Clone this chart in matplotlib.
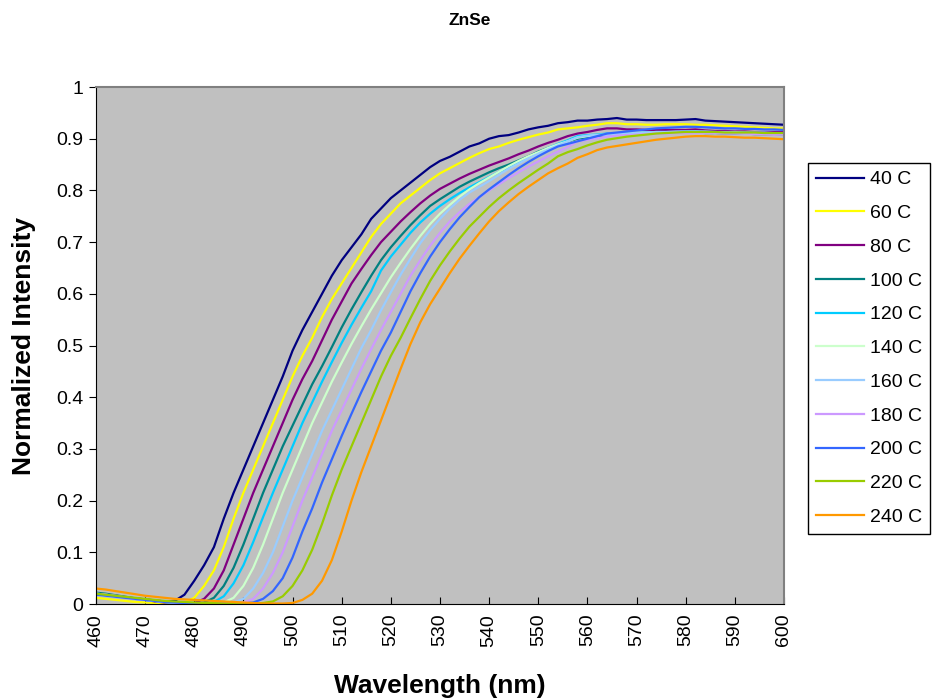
import matplotlib
matplotlib.use('Agg')
from matplotlib import pyplot as plt
import numpy as np

plt.rcParams['font.family'] = ['Liberation Sans', 'DejaVu Sans']

wl = np.arange(460, 601, 2)

t40 = [.020, .018, .016, .013, .011, .009, .007, .005, .006, .018, .045, .075, .11, .165, .215, .26, .305, .35, .395, .44,
       .49, .53, .565, .60, .635, .665, .69, .715, .745, .765, .785, .80, .815, .83, .845, .857, .865, .875, .885, .891,
       .90, .905, .907, .912, .918, .922, .925, .93, .932, .935, .935, .937, .938, .94, .937, .937, .936, .936, .936, .936,
       .937, .938, .935, .934, .933, .932, .931, .930, .929, .928, .927]
t60 = [.012, .010, .008, .006, .004, .003, .002, .001, .001, .003, .012, .035, .065, .11, .165, .215, .26, .305, .35, .395,
       .44, .48, .515, .555, .59, .62, .65, .68, .71, .735, .755, .775, .79, .805, .82, .833, .843, .853, .863, .872,
       .88, .885, .892, .898, .903, .908, .912, .918, .92, .922, .925, .927, .93, .93, .928, .928, .927, .927, .928, .928,
       .928, .927, .927, .926, .925, .924, .923, .922, .921, .92, .92]
t80 = [.02, .018, .016, .013, .01, .008, .005, .003, .002, .001, .002, .01, .03, .065, .115, .165, .215, .26, .305, .35,
       .395, .435, .47, .51, .55, .585, .62, .648, .675, .70, .72, .74, .758, .775, .79, .803, .813, .823, .832, .84,
       .848, .855, .862, .87, .877, .885, .892, .898, .905, .91, .913, .917, .92, .92, .918, .918, .917, .917, .917, .917,
       .917, .918, .916, .915, .915, .914, .914, .913, .913, .913, .913]
t100 = [.022, .02, .017, .014, .011, .008, .006, .004, .003, .002, .001, .003, .012, .035, .07, .115, .165, .215, .26, .305,
        .345, .385, .425, .46, .497, .535, .57, .603, .635, .665, .69, .712, .733, .752, .77, .783, .795, .807, .817, .826,
        .835, .843, .85, .858, .866, .875, .882, .888, .895, .9, .903, .905, .908, .91, .91, .91, .911, .912, .912, .912,
        .912, .912, .911, .911, .91, .91, .91, .909, .909, .909, .908]
t120 = [.02, .018, .015, .013, .01, .008, .006, .004, .002, .001, .001, .001, .004, .015, .04, .075, .12, .168, .215, .26,
        .305, .35, .39, .43, .468, .505, .54, .573, .605, .645, .672, .695, .718, .738, .755, .77, .783, .795, .806, .816,
        .826, .836, .845, .855, .864, .873, .882, .89, .897, .905, .907, .908, .91, .908, .91, .911, .912, .913, .913, .913,
        .914, .914, .913, .913, .912, .912, .912, .911, .911, .91, .91]
t140 = [.018, .016, .014, .012, .01, .008, .006, .004, .003, .002, .001, .001, .001, .003, .012, .035, .07, .115, .165, .215,
        .26, .305, .35, .39, .43, .467, .503, .537, .57, .601, .632, .66, .687, .712, .735, .755, .772, .788, .802, .814,
        .825, .836, .847, .857, .866, .874, .882, .889, .895, .902, .905, .907, .908, .91, .91, .911, .911, .912, .912, .912,
        .912, .912, .912, .911, .911, .911, .91, .91, .91, .909, .909]
t160 = [.02, .018, .016, .013, .01, .008, .006, .004, .003, .002, .001, .001, .001, .001, .003, .01, .03, .06, .1, .15,
        .2, .245, .29, .335, .375, .415, .455, .495, .53, .568, .603, .637, .668, .698, .723, .745, .765, .782, .796, .807,
        .818, .83, .842, .852, .862, .871, .879, .887, .895, .903, .906, .907, .908, .909, .91, .911, .912, .913, .913, .914,
        .914, .914, .914, .913, .913, .913, .912, .912, .912, .911, .911]
t180 = [.02, .018, .015, .012, .01, .008, .006, .004, .003, .002, .001, .001, .001, .001, .001, .003, .01, .03, .06, .1,
        .15, .2, .245, .29, .335, .375, .415, .455, .493, .53, .565, .6, .635, .665, .693, .718, .74, .758, .774, .787,
        .8, .812, .824, .835, .846, .856, .866, .875, .884, .895, .898, .901, .904, .906, .907, .908, .909, .91, .91, .911,
        .911, .911, .911, .911, .91, .91, .91, .909, .909, .908, .908]
t200 = [.018, .016, .014, .012, .01, .008, .006, .004, .003, .002, .001, .001, .001, .001, .001, .001, .003, .01, .025, .05,
        .09, .14, .185, .235, .28, .325, .368, .41, .45, .49, .525, .565, .605, .64, .672, .7, .725, .748, .768, .787,
        .802, .816, .83, .843, .855, .866, .876, .885, .89, .895, .9, .905, .91, .912, .914, .916, .918, .92, .921, .922,
        .923, .923, .922, .921, .92, .92, .919, .919, .918, .918, .917]
t220 = [.02, .018, .016, .014, .012, .01, .008, .006, .005, .004, .003, .002, .002, .001, .001, .001, .001, .002, .005, .015,
        .035, .065, .105, .155, .21, .26, .305, .35, .395, .44, .48, .515, .553, .59, .625, .655, .682, .707, .73, .749,
        .768, .785, .8, .814, .827, .84, .852, .866, .874, .88, .887, .893, .898, .901, .904, .906, .908, .91, .911, .912,
        .913, .913, .913, .913, .912, .912, .912, .912, .911, .911, .911]
t240 = [.03, .028, .025, .022, .019, .016, .014, .012, .01, .009, .008, .007, .006, .005, .004, .003, .002, .001, .001, .001,
        .002, .008, .02, .045, .085, .14, .2, .255, .305, .355, .405, .455, .503, .545, .58, .61, .64, .668, .693, .717,
        .74, .76, .777, .793, .807, .82, .833, .843, .852, .863, .87, .878, .883, .886, .889, .892, .895, .898, .9, .902,
        .904, .905, .905, .904, .904, .903, .902, .902, .901, .9, .899]

series = [t40, t60, t80, t100, t120, t140, t160, t180, t200, t220, t240]
names = ['40 C', '60 C', '80 C', '100 C', '120 C', '140 C', '160 C', '180 C', '200 C', '220 C', '240 C']
colors = ['#000080', '#FFFF00', '#800080', '#008080', '#00CCFF', '#CCFFCC',
          '#99CCFF', '#CC99FF', '#3366FF', '#99CC00', '#FF9900']
xticks = list(range(460, 601, 10))
yticks = [0, 0.1, 0.2, 0.3, 0.4, 0.5, 0.6, 0.7, 0.8, 0.9, 1]
ylabels = ['0', '0.1', '0.2', '0.3', '0.4', '0.5', '0.6', '0.7', '0.8', '0.9', '1']

fig = plt.figure(figsize=(9.39, 7), dpi=100)
ax = fig.add_axes([0.1022, 0.1371, 0.7327, 0.7386])
ax.set_facecolor('#C0C0C0')

for y, name, color in zip(series, names, colors):
    ax.plot(wl, y, color=color, lw=1.6, label=name)

ax.set_xlim(460, 600)
ax.set_ylim(0, 1)
ax.set_xticks(xticks)
ax.set_xticklabels([str(v) for v in xticks], rotation=90)
ax.set_yticks(yticks)
ax.set_yticklabels(ylabels)
ax.tick_params(axis='x', direction='in', length=5, labelsize=14, pad=7)
ax.tick_params(axis='y', direction='out', length=5, labelsize=14, pad=4)

for s in ['top', 'right']:
    ax.spines[s].set_color('#808080')
    ax.spines[s].set_linewidth(1.5)
for s in ['left', 'bottom']:
    ax.spines[s].set_color('black')

ax.set_xlabel('Wavelength (nm)', fontsize=19, fontweight='bold', va='center')
ax.xaxis.set_label_coords(0.5, -0.159)
ax.set_ylabel('Normalized Intensity', fontsize=19, fontweight='bold', va='center')
ax.yaxis.set_label_coords(-0.105, 0.5)
fig.text(0.5, 0.971, 'ZnSe', ha='center', va='center', fontsize=12.5, fontweight='bold')

leg = fig.legend(loc='upper left', bbox_to_anchor=(808 / 939, 1 - 163 / 700), borderaxespad=0,
                 fontsize=14, handlelength=2.5, labelspacing=0.83, handletextpad=0.3,
                 fancybox=False, framealpha=1, edgecolor='black', borderpad=0.4)
leg.get_frame().set_linewidth(1.0)

plt.savefig('out.png', dpi=100)
